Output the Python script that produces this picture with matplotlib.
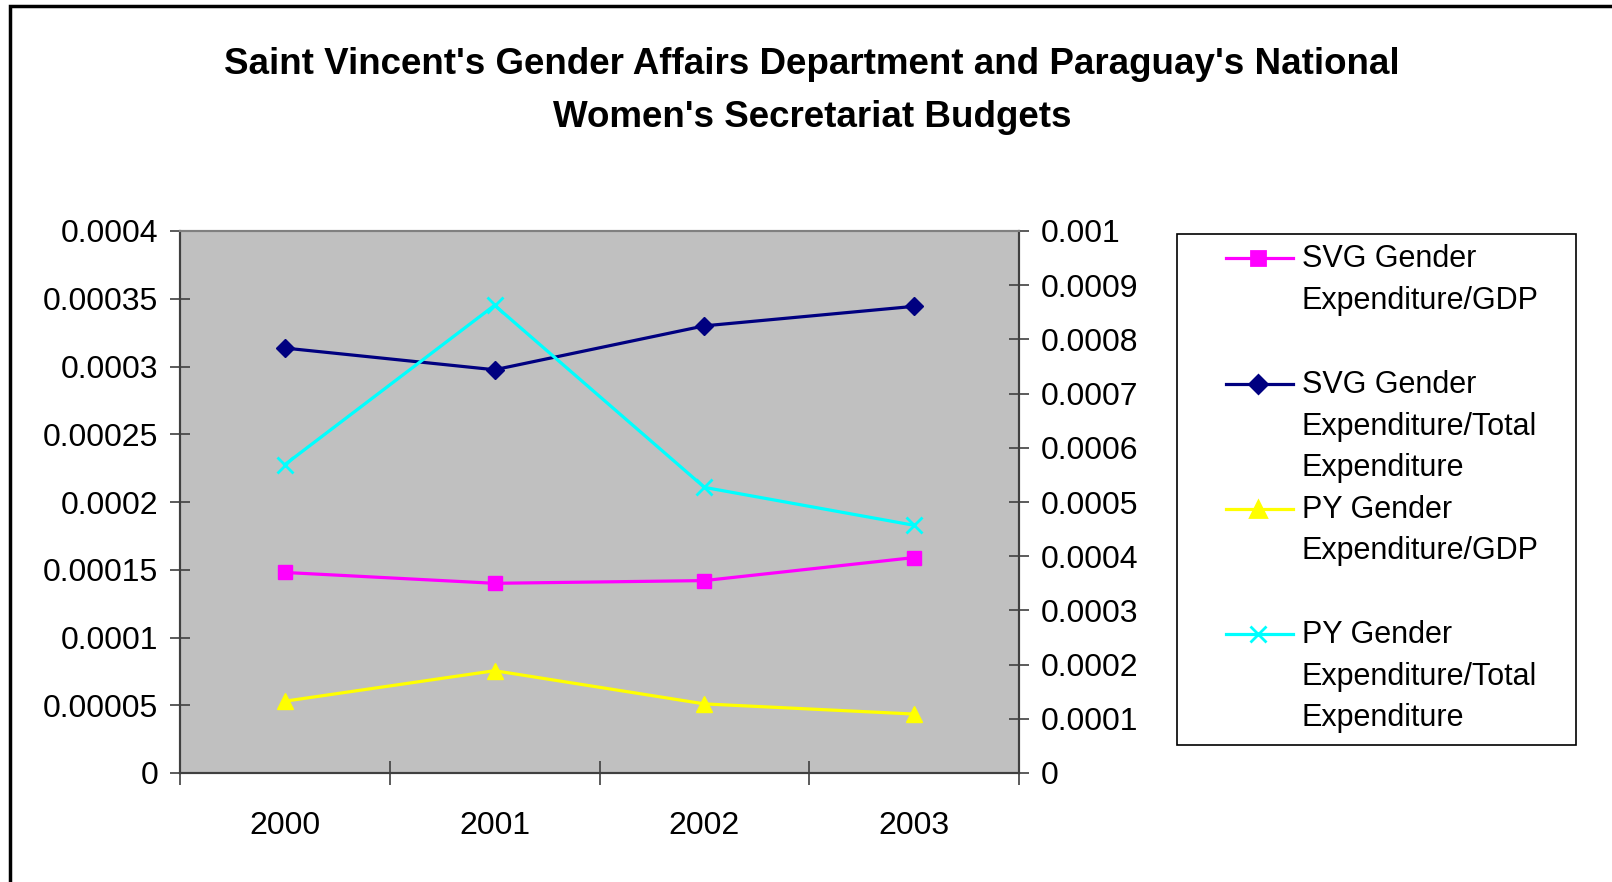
import matplotlib
matplotlib.use("Agg")
import matplotlib.pyplot as plt
from matplotlib.patches import Rectangle
from matplotlib.lines import Line2D

# --- DATA ---
years = ["2000", "2001", "2002", "2003"]
svg_gdp = [0.000148, 0.000140, 0.000142, 0.000159]
py_gdp = [0.0000530, 0.0000755, 0.0000510, 0.0000435]
svg_total = [0.000784, 0.000744, 0.000825, 0.000861]
py_total = [0.000569, 0.000863, 0.000527, 0.000457]

left_ticks = [0, 0.00005, 0.0001, 0.00015, 0.0002, 0.00025, 0.0003, 0.00035, 0.0004]
left_labels = ["0", "0.00005", "0.0001", "0.00015", "0.0002", "0.00025", "0.0003", "0.00035", "0.0004"]
right_ticks = [0, 0.0001, 0.0002, 0.0003, 0.0004, 0.0005, 0.0006, 0.0007, 0.0008, 0.0009, 0.001]
right_labels = ["0", "0.0001", "0.0002", "0.0003", "0.0004", "0.0005", "0.0006", "0.0007", "0.0008", "0.0009", "0.001"]

legend_labels = ["SVG Gender\nExpenditure/GDP",
                 "SVG Gender\nExpenditure/Total\nExpenditure",
                 "PY Gender\nExpenditure/GDP",
                 "PY Gender\nExpenditure/Total\nExpenditure"]

# --- STYLE ---
FONT = ["Liberation Sans", "DejaVu Sans"]
plt.rcParams["font.family"] = FONT
TICK_FS = 23
LEG_FS = 22

styles = [
    dict(color="#FF00FF", marker="s", ms=10),
    dict(color="#000080", marker="D", ms=9),
    dict(color="#FFFF00", marker="^", ms=12),
    dict(color="#00FFFF", marker="x", ms=12),
]
LW = 2.3

fig = plt.figure(figsize=(16.12, 8.82), dpi=100)

# outer chart frame (Excel chart area)
fig.add_artist(Rectangle((10 / 1612, -0.05), 1.2, 1 - 6 / 882 + 0.05,
                         transform=fig.transFigure, fill=False,
                         edgecolor="black", linewidth=2.5))

ax = fig.add_axes([180 / 1612, 1 - 773 / 882, (1019 - 180) / 1612, (773 - 231) / 882])
ax.set_facecolor("#C0C0C0")
ax2 = ax.twinx()

x = [i + 0.5 for i in range(len(years))]
ax.plot(x, svg_gdp, color=styles[0]["color"], marker="s", ms=styles[0]["ms"], lw=LW, zorder=3)
ax.plot(x, py_gdp, color=styles[2]["color"], marker="^", ms=styles[2]["ms"], lw=LW, zorder=3)
ax2.plot(x, svg_total, color=styles[1]["color"], marker="D", ms=styles[1]["ms"], lw=LW, zorder=3)
ax2.plot(x, py_total, color=styles[3]["color"], marker="x", ms=styles[3]["ms"], mew=2, lw=LW, zorder=3)

ax.set_xlim(0, 4)
ax.set_ylim(0, 0.0004)
ax2.set_ylim(0, 0.001)

ax.set_xticks([0, 1, 2, 3, 4])
ax.set_xticklabels([])
ax.set_xticks(x, minor=True)
ax.set_xticklabels(years, minor=True, fontsize=TICK_FS)
ax.tick_params(axis="x", which="major", direction="inout", length=17, width=1.2, color="#404040")
ax.tick_params(axis="x", which="minor", length=0, pad=27)

ax.set_yticks(left_ticks)
ax.set_yticklabels(left_labels, fontsize=TICK_FS)
ax.tick_params(axis="y", direction="inout", length=15, width=1.2, color="#404040", pad=8)

ax2.set_yticks(right_ticks)
ax2.set_yticklabels(right_labels, fontsize=TICK_FS)
ax2.tick_params(axis="y", direction="inout", length=15, width=1.2, color="#404040", pad=8)

for a in (ax, ax2):
    for s in a.spines.values():
        s.set_color("#404040")
        s.set_linewidth(1.5)
    a.spines["top"].set_color("#808080")

# title
fig.text(812 / 1612, 1 - 91 / 882,
         "Saint Vincent's Gender Affairs Department and Paraguay's National\nWomen's Secretariat Budgets",
         ha="center", va="center", fontsize=26.5, fontweight="bold",
         linespacing=1.7)

# legend box drawn by hand (Excel-style multi-line entries)
fig.add_artist(Rectangle((1177 / 1612, 1 - 745 / 882), (1576 - 1177) / 1612, (745 - 234) / 882,
                         transform=fig.transFigure, facecolor="white",
                         edgecolor="black", linewidth=1.2))
entry_y = [258, 384, 509, 634]
for lab, st, yy in zip(legend_labels, styles, entry_y):
    yf = 1 - yy / 882
    fig.add_artist(Line2D([1226 / 1612, 1293 / 1612], [yf, yf], transform=fig.transFigure,
                          color=st["color"], lw=LW))
    fig.add_artist(Line2D([1258 / 1612], [yf], transform=fig.transFigure,
                          color=st["color"], marker=st["marker"], ms=st["ms"], mew=2))
    fig.text(1302 / 1612, yf + 14 / 882, lab, ha="left", va="top", fontsize=LEG_FS,
             linespacing=1.5)

fig.savefig("out.png", dpi=100)
